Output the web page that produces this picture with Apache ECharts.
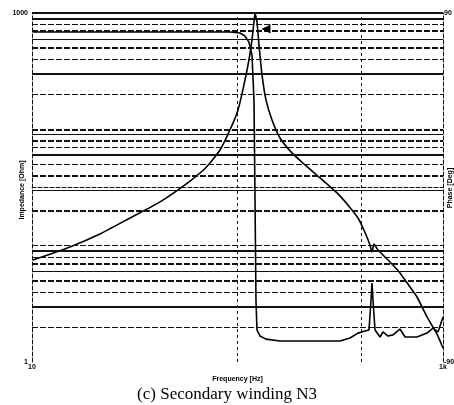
<!DOCTYPE html>
<html>
<head>
<meta charset="utf-8">
<script src="https://cdn.jsdelivr.net/npm/echarts@6/dist/echarts.min.js"></script>
<style>
  html, body { margin: 0; background: #fff; }
  #chart { width: 454px; height: 405px; }
</style>
</head>
<body>
<div id="chart"></div>
<script>
// impedance curve (Hz, Ohm)
const impFreq = [10.1, 15.3, 21.4, 30.0, 42.0, 55.5, 69.5, 82.2, 91.9, 100.6, 107.5, 113.7, 117.6, 120.3, 121.7,
  124.4, 127.2, 131.6, 137.6, 147.2, 161, 184.1, 213.1, 252.1, 315.3, 385.8, 421.9, 441.3, 451.3, 461.5, 482.7,
  552.2, 617.7, 690.9, 747.3, 835.9, 935, 1000]
const impedance = [7.53, 9.75, 12.6, 17.3, 23.8, 33.3, 46.1, 66.5, 98.8, 146.9, 240.9, 395.1, 587.1, 838.5, 982,
  838.5, 531.8, 293.7, 179, 120.4, 84.3, 62.7, 49.4, 38.2, 26.8, 17.3, 12.4, 10.1, 8.83, 10.3, 9.18,
  7.24, 5.83, 4.41, 3.62, 2.44, 1.74, 1.32]

// phase curve (Hz, deg)
const phFreq = [10.1, 37.5, 91.9, 102.8, 108.8, 113.7, 117.6, 120.3, 121.7, 123.0, 124.4, 128.7, 137.6, 161,
  315.3, 352.7, 385.8, 417.2, 436.4, 446.3, 451.3, 456.3, 467, 493.6, 510.5, 540, 571.2, 617.7, 653.4, 747.3,
  835.9, 894, 945.6, 1000]
const phase = [80.2, 80.2, 80.2, 79.7, 78.1, 75.0, 68.3, 45.1, -6.5, -58.0, -73.5, -76.6, -78.2, -79.2,
  -79.2, -77.6, -75.1, -74.0, -73.5, -58.0, -49.3, -58.0, -73.5, -77.1, -74.5, -76.6, -76.0, -73.0, -77.1, -77.1,
  -75.1, -72.5, -74.5, -66.8]

// grid lines and labels
const impGrid = [2, 3, 4, 5, 6, 7, 8, 9, 10, 20, 30, 40, 50, 60, 70, 80, 90, 100, 200, 300, 400, 500, 600, 700, 800, 900]
const freqGrid = [100, 400]
const cursor = [137.6, 81.7]
const impLabels = { 1: '1', 1000: '1000' }
const freqLabels = { 10: '10', 1000: '1k' }

const chart = echarts.init(document.getElementById('chart'))

const small = { color: '#000', fontSize: 7, fontWeight: 'bold', fontFamily: 'Liberation Sans' }

// rotated axis titles (placed by hand, the axis name gap pushes them off the page)
const axisTitle = (text, x, y) => ({
  type: 'text', x, y, rotation: Math.PI / 2,
  style: { text, fill: '#000', font: 'bold 7px "Liberation Sans"', align: 'center', verticalAlign: 'middle' }
})

chart.setOption({
  animation: false,
  title: {
    text: '(c) Secondary winding N3',
    left: 'center',
    top: 381,
    textStyle: { fontFamily: 'Liberation Serif', fontSize: 17, fontWeight: 'normal', color: '#000' }
  },
  graphic: [
    axisTitle('Impedance [Ohm]', 22, 190),
    axisTitle('Phase [Deg]', 450, 188)
  ],
  grid: { left: 32, right: 11, top: 13, bottom: 43, containLabel: false, outerBoundsMode: 'none' },
  xAxis: {
    type: 'log', logBase: 10, min: 10, max: 1000,
    name: 'Frequency [Hz]', nameLocation: 'middle', nameGap: 6, nameTextStyle: small,
    axisLine: { show: true, lineStyle: { color: '#111', width: 1, type: 'dashed' } },
    axisTick: { show: false },
    splitLine: { show: false },
    axisLabel: { ...small, margin: 2, formatter: v => freqLabels[Math.round(v)] || '' }
  },
  yAxis: [
    {
      type: 'log', logBase: 10, min: 1, max: 1000,
      axisLine: { show: true, lineStyle: { color: '#111', width: 1, type: 'dashed' } },
      axisTick: { show: false },
      splitLine: { show: false },
      axisLabel: { ...small, margin: 4, formatter: v => impLabels[Math.round(v)] || '' }
    },
    {
      type: 'value', min: -90, max: 90, interval: 180,
      axisLine: { show: true, lineStyle: { color: '#111', width: 1, type: 'dashed' } },
      axisTick: { show: false },
      splitLine: { show: false },
      axisLabel: { ...small, margin: 1 }
    }
  ],
  series: [
    {
      name: 'Impedance', type: 'line', yAxisIndex: 0, symbol: 'none', smooth: 0.2,
      lineStyle: { color: '#000', width: 1.6 },
      data: impFreq.map((f, i) => [f, impedance[i]]),
      markLine: {
        silent: true, symbol: 'none', label: { show: false },
        lineStyle: { color: '#111', width: 1.4, type: 'dashed' },
        data: [
          { yAxis: 1000, lineStyle: { type: 'solid', width: 2 } },
          ...impGrid.map((v, i) => ({ yAxis: v, lineStyle: { type: i % 3 === 1 ? 'solid' : [6, 2], width: i % 2 ? 1.8 : 1.2 } })),
          ...freqGrid.map(v => ({ xAxis: v, lineStyle: { type: [3, 3], width: 1 } }))
        ]
      }
    },
    {
      name: 'Phase', type: 'line', yAxisIndex: 1, symbol: 'none',
      lineStyle: { color: '#000', width: 1.6 },
      data: phFreq.map((f, i) => [f, phase[i]]),
      markPoint: {
        symbol: 'triangle', symbolSize: 9, symbolRotate: 90, itemStyle: { color: '#000' }, label: { show: false },
        data: [{ coord: cursor }]
      }
    }
  ]
})
</script>
</body>
</html>
